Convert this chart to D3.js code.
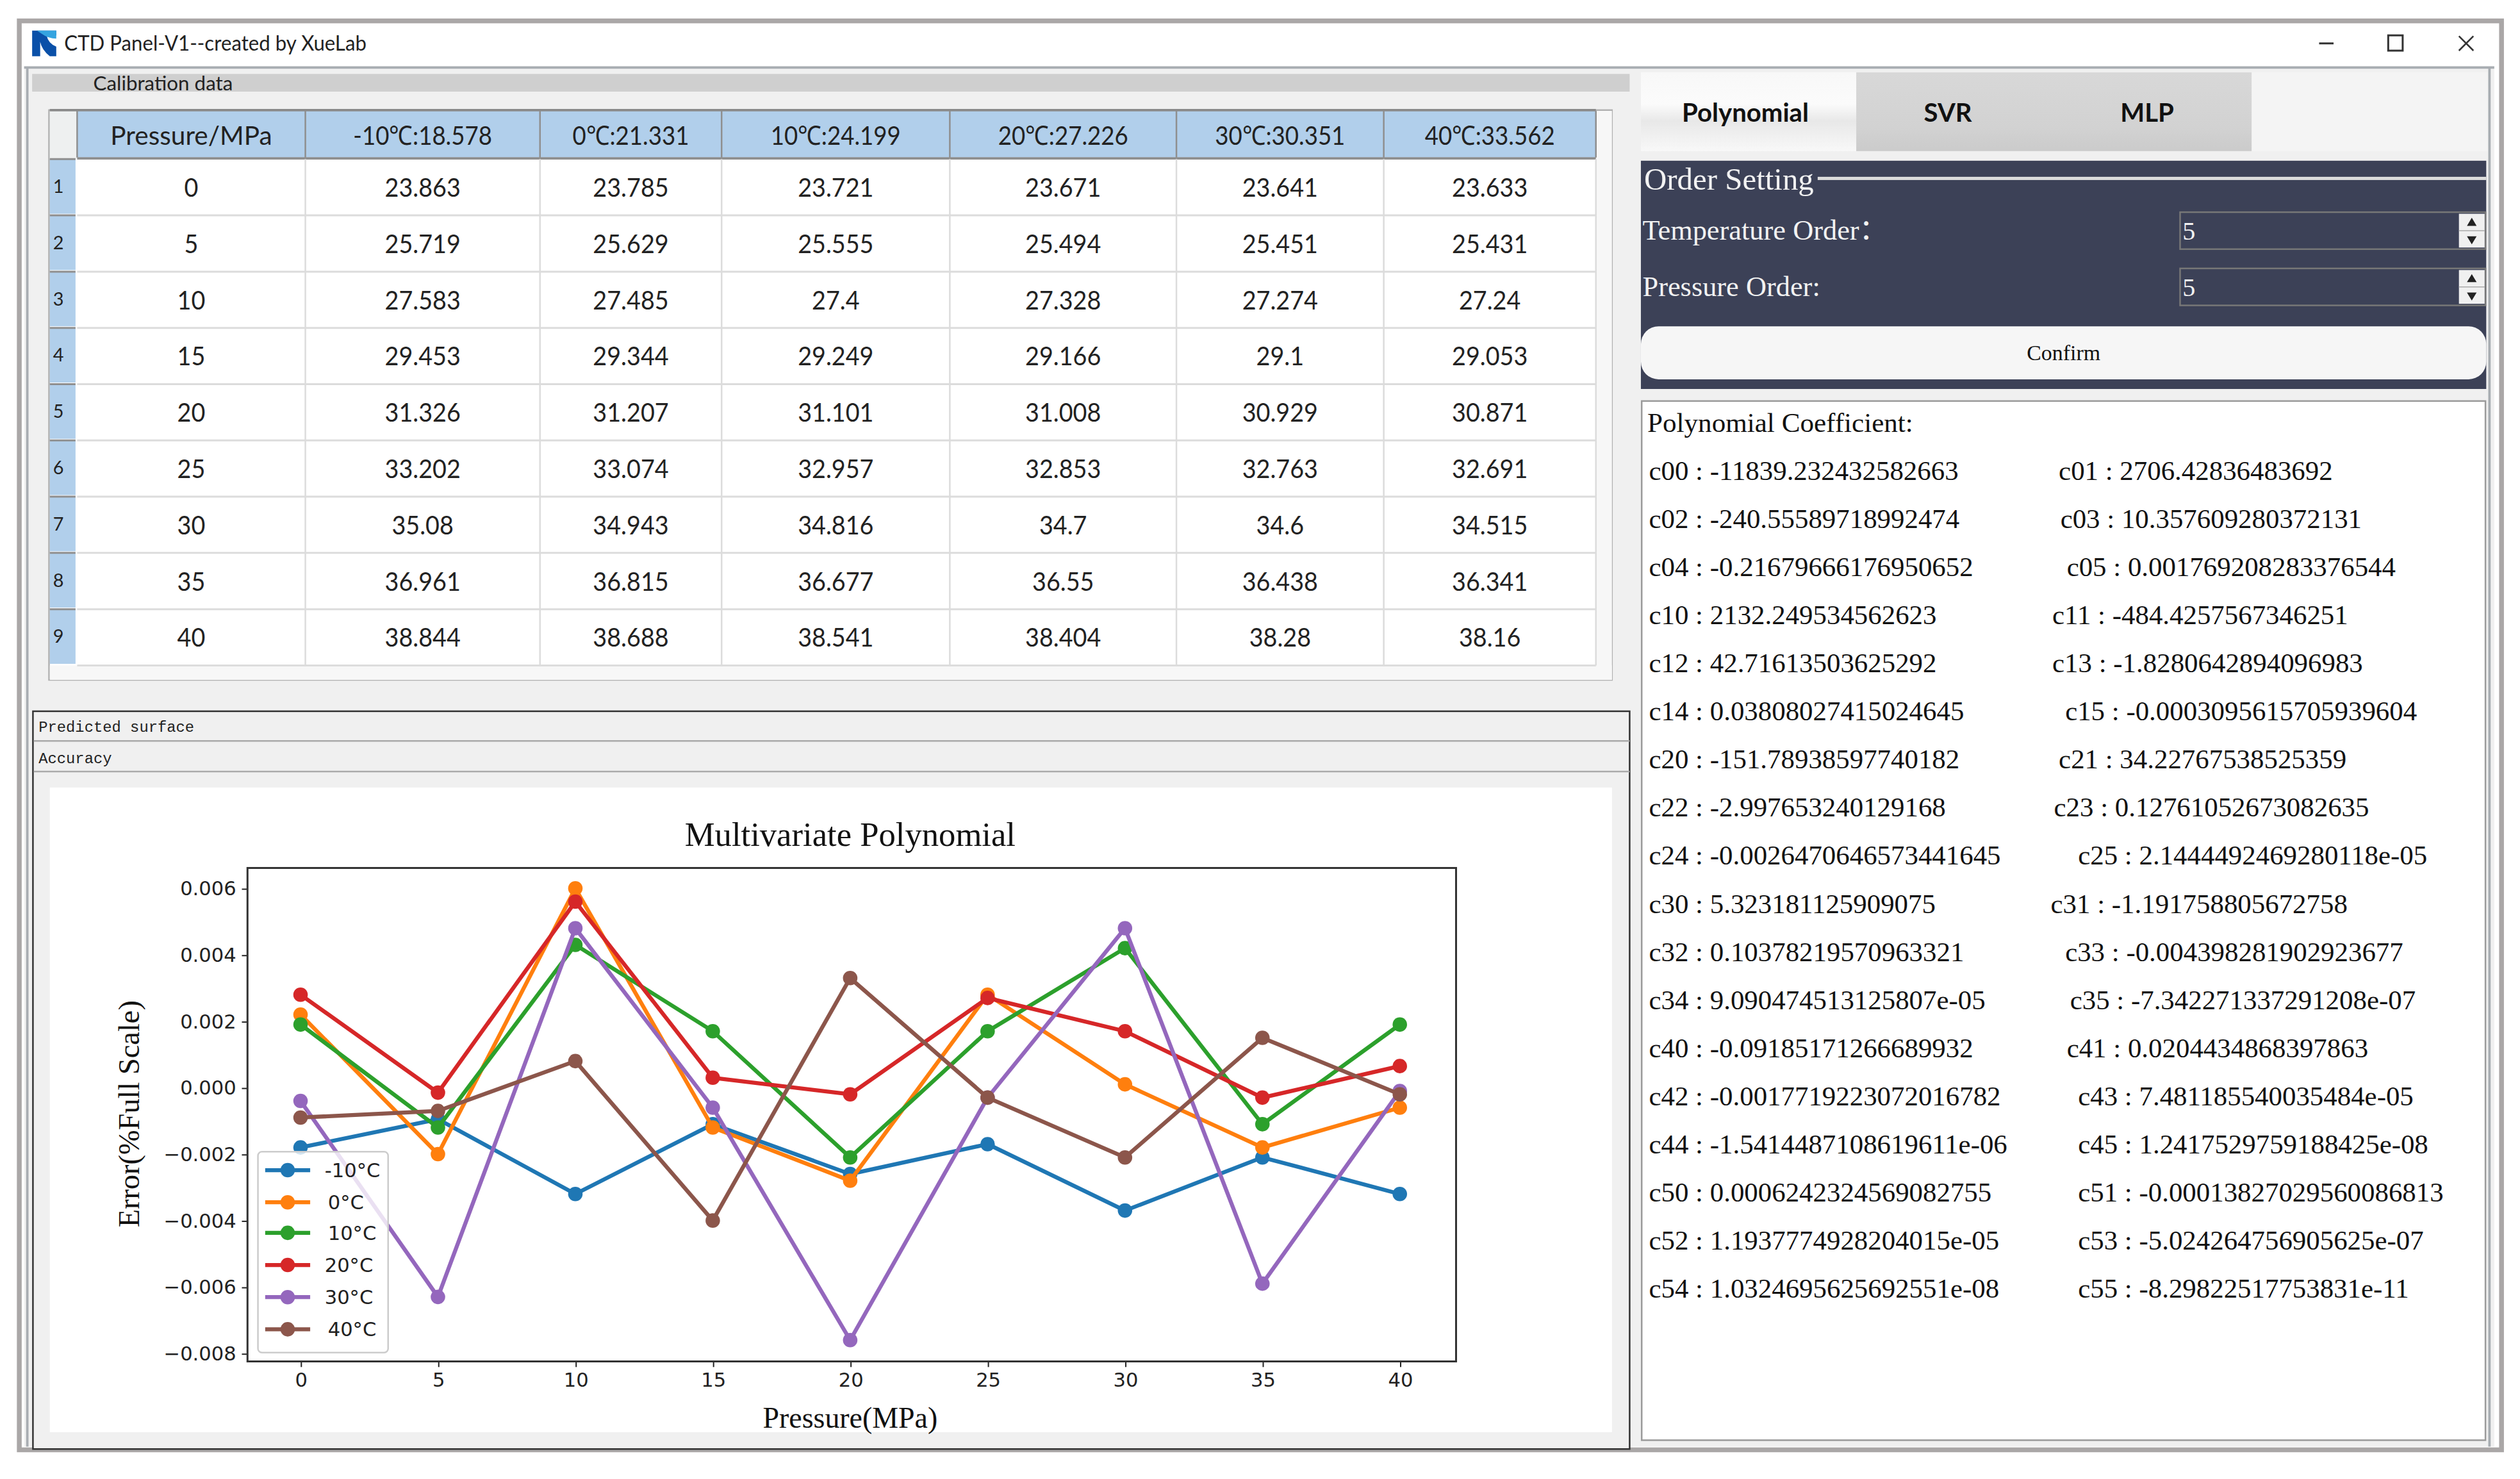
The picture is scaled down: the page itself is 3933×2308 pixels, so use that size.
<!DOCTYPE html>
<html><head><meta charset="utf-8">
<script src="https://cdnjs.cloudflare.com/ajax/libs/d3/7.8.5/d3.min.js"></script>
<style>html,body{margin:0;padding:0;background:#fff;overflow:hidden}svg{display:block}</style>
</head><body><div id="app"></div>
<script>
// ---------- data ----------
const pressures = [0,5,10,15,20,25,30,35,40];
const seriesNames = ["-10°C","0°C","10°C","20°C","30°C","40°C"];
const seriesColors = ["#1f77b4","#ff7f0e","#2ca02c","#d62728","#9467bd","#8c564b"];
const errM10 = [-0.0018,-0.00095,-0.0032,-0.0011,-0.0026,-0.0017,-0.0037,-0.0021,-0.0032];
const err0   = [0.0022,-0.0020,0.0060,-0.0012,-0.0028,0.0028,0.0001,-0.0018,-0.0006];
const err10  = [0.0019,-0.0012,0.0043,0.0017,-0.0021,0.0017,0.0042,-0.0011,0.0019];
const err20  = [0.0028,-0.00015,0.0056,0.0003,-0.0002,0.0027,0.0017,-0.0003,0.00065];
const err30  = [-0.0004,-0.0063,0.0048,-0.0006,-0.0076,-0.0003,0.0048,-0.0059,-0.0001];
const err40  = [-0.0009,-0.0007,0.0008,-0.0040,0.0033,-0.0003,-0.0021,0.0015,-0.0002];
const yTicks = [0.006,0.004,0.002,0,-0.002,-0.004,-0.006,-0.008];

const tableHeaders = ["Pressure/MPa","-10℃:18.578","0℃:21.331","10℃:24.199","20℃:27.226","30℃:30.351","40℃:33.562"];
const colM10 = ["23.863","25.719","27.583","29.453","31.326","33.202","35.08","36.961","38.844"];
const col0   = ["23.785","25.629","27.485","29.344","31.207","33.074","34.943","36.815","38.688"];
const col10  = ["23.721","25.555","27.4","29.249","31.101","32.957","34.816","36.677","38.541"];
const col20  = ["23.671","25.494","27.328","29.166","31.008","32.853","34.7","36.55","38.404"];
const col30  = ["23.641","25.451","27.274","29.1","30.929","32.763","34.6","36.438","38.28"];
const col40  = ["23.633","25.431","27.24","29.053","30.871","32.691","34.515","36.341","38.16"];

const coefLeft = ["c00 : -11839.232432582663","c02 : -240.55589718992474","c04 : -0.21679666176950652","c10 : 2132.249534562623","c12 : 42.71613503625292","c14 : 0.03808027415024645","c20 : -151.78938597740182","c22 : -2.997653240129168","c24 : -0.0026470646573441645","c30 : 5.323181125909075","c32 : 0.10378219570963321","c34 : 9.090474513125807e-05","c40 : -0.09185171266689932","c42 : -0.0017719223072016782","c44 : -1.5414487108619611e-06","c50 : 0.0006242324569082755","c52 : 1.1937774928204015e-05","c54 : 1.0324695625692551e-08"];
const coefRight = ["c01 : 2706.42836483692","c03 : 10.357609280372131","c05 : 0.001769208283376544","c11 : -484.4257567346251","c13 : -1.8280642894096983","c15 : -0.0003095615705939604","c21 : 34.22767538525359","c23 : 0.12761052673082635","c25 : 2.1444492469280118e-05","c31 : -1.191758805672758","c33 : -0.004398281902923677","c35 : -7.342271337291208e-07","c41 : 0.0204434868397863","c43 : 7.481185540035484e-05","c45 : 1.241752975918 8425e-08".replace(/\s(?=\d{4}e)/,""),"c51 : -0.00013827029560086813","c53 : -5.024264756905625e-07","c55 : -8.29822517753831e-11"];

// ---------- layout (design grid 1568 wide, scaled to the window) ----------
const W = 1568, H = 2308*1568/3933;
const coefRightX = [1281,1282,1286,1277,1277,1285,1281,1278,1293,1276,1285,1288,1286,1293,1293,1293,1293,1293];
const svg = d3.select("#app").append("svg").attr("width",3933).attr("height",2308).attr("viewBox",`0 0 ${W} ${H}`);
const defs = svg.append("defs");
function grad(id,stops){const g=defs.append("linearGradient").attr("id",id).attr("x1",0).attr("x2",0).attr("y1",0).attr("y2",1);
  stops.forEach(s=>g.append("stop").attr("offset",s[0]).attr("stop-color",s[1]));}
grad("tabOn",[[0,"#f8f8f8"],[0.4,"#fbfbfb"],[0.62,"#e8e8e8"],[1,"#f8f8f8"]]);
grad("tabOff",[[0,"#d8d8d8"],[0.7,"#d2d2d2"],[1,"#cbcbcb"]]);
const SANS="Lato, 'Open Sans', sans-serif", SERIF="'Liberation Serif', 'Noto Sans CJK SC', serif", DJ="'DejaVu Sans', sans-serif";
function rect(p,x,y,w,h,fill,stroke,sw,rx){const r=p.append("rect").attr("x",x).attr("y",y).attr("width",w).attr("height",h).attr("fill",fill||"none");
  if(stroke)r.attr("stroke",stroke).attr("stroke-width",sw||1); if(rx)r.attr("rx",rx); return r;}
function text(p,x,y,s,size,font,fill,anchor,weight){return p.append("text").attr("x",x).attr("y",y).attr("dy","0.35em").text(s)
  .attr("font-size",size).attr("font-family",font).attr("fill",fill||"#111").attr("text-anchor",anchor||"start").attr("font-weight",weight||null);}
function squeeze(t,x,k){return t.attr("transform",`translate(${x},0) scale(${k},1) translate(${-x},0)`);}

// window frame
const ui = svg.append("g");
rect(ui,12,13,1544.5,889,"#fff","#aaa7a7",3);
rect(ui,15,41,1537,859,"#f0f0f0");
ui.append("line").attr("x1",15).attr("x2",1552).attr("y1",42).attr("y2",42).attr("stroke","#a8adb2").attr("stroke-width",1.5);
ui.append("line").attr("x1",17).attr("x2",17).attr("y1",42).attr("y2",900).attr("stroke","#a8adb2").attr("stroke-width",1.5);
ui.append("line").attr("x1",1549).attr("x2",1549).attr("y1",42).attr("y2",900).attr("stroke","#a8adb2").attr("stroke-width",1.5);
// icon
ui.append("path").attr("d","M20 19 L35 19 L35 22 L29 22 Q30 27 35 29 L35 35 L31 35 Q26 31 25 26 L25 35 L20 35 Z").attr("fill","#0a50a8");
ui.append("path").attr("d","M23 19 L35 19 L35 24 Q30 24 26 21 Z").attr("fill","#35a4e0");
text(ui,40,27,"CTD Panel-V1--created by XueLab",13,SANS,"#222").attr("textLength",188).attr("lengthAdjust","spacingAndGlyphs");
ui.append("line").attr("x1",1443).attr("x2",1452).attr("y1",27).attr("y2",27).attr("stroke","#333").attr("stroke-width",1.2);
rect(ui,1486,22,9,9.5,"none","#333",1.2);
ui.append("path").attr("d","M1530 22.5 L1539 31.5 M1539 22.5 L1530 31.5").attr("stroke","#333").attr("stroke-width",1);

// calibration header
rect(ui,20,46,994,11,"#cfcfcf");
text(ui,58,52,"Calibration data",12.5,SANS,"#222");

// table
const colEdges = [48,190,336,449,591,732,861,993];
const rowEdges = [99,134,169,204,239,274,309,344,379,414];
const tableCols = [pressures.map(String),colM10,col0,col10,col20,col30,col40];
const tb = ui.append("g");
rect(tb,30.5,68.5,972.5,354.5,"#fff","#b0b0b0",1);
rect(tb,31,69,17,30,"#eef0f0");
rect(tb,993,69,10,354,"#f7f7f7");
rect(tb,31,414,972,9,"#f7f7f7");
rect(tb,48,69,945,29,"#b1cfeb");
tb.append("line").attr("x1",31).attr("x2",993).attr("y1",68.5).attr("y2",68.5).attr("stroke","#8a8a8a").attr("stroke-width",1.5);
tb.append("line").attr("x1",48).attr("x2",993).attr("y1",98.5).attr("y2",98.5).attr("stroke","#8f8f8f").attr("stroke-width",1.5);
tb.selectAll(".hl").data(rowEdges.slice(1)).join("line").attr("x1",48).attr("x2",993).attr("y1",d=>d).attr("y2",d=>d).attr("stroke","#dcdcdc").attr("stroke-width",1.2);
tb.selectAll(".vl").data(colEdges.slice(1)).join("line").attr("x1",d=>d).attr("x2",d=>d).attr("y1",99).attr("y2",414).attr("stroke","#dcdcdc").attr("stroke-width",1);
tb.selectAll(".vh").data(colEdges.slice(0,-1).concat([993])).join("line").attr("x1",d=>d).attr("x2",d=>d).attr("y1",69).attr("y2",98).attr("stroke","#8f8f8f").attr("stroke-width",1);
tableHeaders.forEach((h,c)=>{const cx=(colEdges[c]+colEdges[c+1])/2;
  squeeze(text(tb,cx,84.5,h,16.5,SANS,"#222","middle"),cx,c===0?0.98:0.885);});
rowEdges.slice(0,-1).forEach((y0,r)=>{
  rect(tb,31,y0,16,34,"#b1cfeb");
  tb.append("line").attr("x1",31).attr("x2",47).attr("y1",y0).attr("y2",y0).attr("stroke","#8f8f8f").attr("stroke-width",1.2);
  text(tb,33,y0+17,String(r+1),11.5,SANS,"#222");
  tableCols.forEach((col,c)=>{const cx=(colEdges[c]+colEdges[c+1])/2;
    squeeze(text(tb,cx,y0+17.8,col[r],16,SANS,"#222","middle"),cx,0.94);});
});

// lower panel
rect(ui,20.5,442.5,993.5,459,"#f0f0f0","#333",1);
const MONO="'Liberation Mono', monospace";
ui.append("line").attr("x1",21).attr("x2",1014).attr("y1",461).attr("y2",461).attr("stroke","#aaa");
ui.append("line").attr("x1",21).attr("x2",1014).attr("y1",480).attr("y2",480).attr("stroke","#aaa");
text(ui,24,452,"Predicted surface",9.5,MONO,"#222");
text(ui,24,471.5,"Accuracy",9.5,MONO,"#222");
rect(ui,31,490,972,401,"#fff");

// chart
const series = [errM10,err0,err10,err20,err30,err40];
const mt=540, mb=847, ml=154, mr=906;
const x = d3.scaleLinear().domain([0,40]).range([187,871]);
const y = d3.scaleLinear().domain([-0.008,0.006]).range([842,552.7]);
const chart = svg.append("g");
const clean = v=> (v<0?"−":"")+Math.abs(v).toFixed(3);
const gx = chart.append("g").attr("transform",`translate(0,${mb})`).call(d3.axisBottom(x).tickValues(pressures).tickSize(3.5).tickPadding(3.5).tickFormat(d3.format("d")));
const gy = chart.append("g").attr("transform",`translate(${ml},0)`).call(d3.axisLeft(y).tickValues(yTicks).tickSize(3.5).tickPadding(3.5).tickFormat(clean));
[gx,gy].forEach(g=>{g.select(".domain").remove();
  g.selectAll("text").attr("font-family",DJ).attr("font-size",12.2).attr("fill","#222");
  g.selectAll("line").attr("stroke","#222").attr("stroke-width",0.8);});
const line = d3.line().x((d,i)=>x(pressures[i])).y(d=>y(d));
series.forEach((s,k)=>{
  chart.append("path").attr("d",line(s)).attr("fill","none").attr("stroke",seriesColors[k]).attr("stroke-width",2.5).attr("stroke-linejoin","round");
  chart.selectAll(".p"+k).data(s).join("circle").attr("cx",(d,i)=>x(pressures[i])).attr("cy",d=>y(d)).attr("r",4.5).attr("fill",seriesColors[k]);
});
rect(chart,ml,mt,mr-ml,mb-mt,"none","#333",1.2);
text(chart,529,519,"Multivariate Polynomial",21,SERIF,"#111","middle");
text(chart,529,882,"Pressure(MPa)",18.3,SERIF,"#111","middle");
chart.append("text").attr("transform","translate(80,693) rotate(-90)").attr("dy","0.35em").attr("text-anchor","middle")
  .text("Error(%Full Scale)").attr("font-size",18.5).attr("font-family",SERIF).attr("fill","#111");
// legend
const lg = chart.append("g");
rect(lg,160.5,716.5,81,125,"#fff","#ccc",1,2.5).attr("fill-opacity",0.8);
const legendY = [728,748,767,787,807,827];
const legendX = [202,204,204,202,202,204];
seriesNames.forEach((n,k)=>{
  lg.append("line").attr("x1",165).attr("x2",193).attr("y1",legendY[k]).attr("y2",legendY[k]).attr("stroke",seriesColors[k]).attr("stroke-width",2.5);
  lg.append("circle").attr("cx",179).attr("cy",legendY[k]).attr("r",4.5).attr("fill",seriesColors[k]);
  text(lg,legendX[k],legendY[k],n,12.2,DJ,"#222");
});

// right: tabs
rect(ui,1021,45,527,49,"#f4f4f4");
rect(ui,1021,45,134,49,"url(#tabOn)");
rect(ui,1155,45,246,49,"url(#tabOff)");
text(ui,1086,70,"Polynomial",16,SANS,"#111","middle","700");
text(ui,1212,70,"SVR",16,SANS,"#111","middle","700");
text(ui,1336,70,"MLP",16,SANS,"#111","middle","700");
// order setting
rect(ui,1021,100,526,142,"#3c4157");
text(ui,1023,111,"Order Setting",19.5,SERIF,"#f2f2f2");
rect(ui,1131,110,416,2,"#dcdcdc");
text(ui,1022,143,"Temperature Order：",17.7,SERIF,"#f2f2f2");
text(ui,1022,178,"Pressure Order:",17.7,SERIF,"#f2f2f2");
[132,167].forEach(y0=>{
  rect(ui,1356.5,y0,190,23,"#3c4157","#777",1);
  text(ui,1358,y0+11.5,"5",16,SERIF,"#f2f2f2");
  rect(ui,1530,y0+1,16,21,"#f0f0f0");
  ui.append("path").attr("d",`M1538 ${y0+3.5} l3 5 h-6 z M1538 ${y0+20} l3 -5 h-6 z`).attr("fill","#222");
  ui.append("line").attr("x1",1530).attr("x2",1546).attr("y1",y0+11.5).attr("y2",y0+11.5).attr("stroke","#aaa").attr("stroke-width",0.6);
});
rect(ui,1021,203,526,33,"#f6f6f6",null,0,11);
text(ui,1284,219.5,"Confirm",13.5,SERIF,"#111","middle");
// coefficients
rect(ui,1021.5,249.5,525,646.5,"#fff","#9a9a9a",1);
text(ui,1025,262.5,"Polynomial Coefficient:",17.2,SERIF,"#111");
coefLeft.forEach((s,i)=>{
  const yy = 292.5 + i*29.94;
  text(ui,1026,yy,s,17.1,SERIF,"#111");
  text(ui,coefRightX[i],yy,coefRight[i],17.1,SERIF,"#111");
});
</script></body></html>
